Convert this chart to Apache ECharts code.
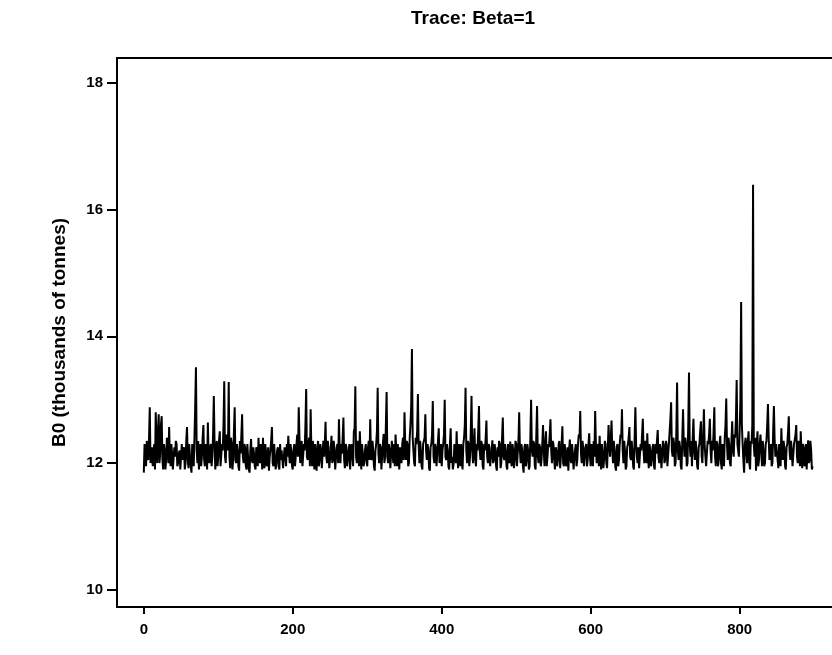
<!DOCTYPE html>
<html>
<head>
<meta charset="utf-8">
<script src="https://cdn.jsdelivr.net/npm/echarts@6/dist/echarts.min.js"></script>
<style>html,body{margin:0;padding:0;background:#fff;}#c{width:832px;height:655px;}</style>
</head>
<body>
<div id="c"></div>
<script>
// B0 trace values (thousands of tonnes).
// evenIterValues: iterations 0,2,4,...,898 ; oddIterValues: iterations 1,3,5,...,899
const evenIterValues = [
11.85,12.2,12.35,12.05,12.88,12.1,11.95,12.3,12.8,12.0,12.77,12.15,12.74,11.9,12.2,12.05,12.3,12.57,11.95,12.15,11.88,12.1,12.3,12.0,12.2,
11.9,12.05,12.25,12.0,12.57,11.92,12.1,11.85,12.2,12.4,13.51,12.0,11.9,12.3,12.1,12.6,11.95,12.25,12.64,12.0,12.3,12.1,13.06,11.9,12.35,
12.1,12.5,11.95,12.2,13.29,12.0,12.4,13.28,11.92,12.3,12.05,12.88,12.0,12.2,11.88,12.15,12.77,12.0,12.25,11.9,12.1,11.85,12.38,12.0,12.15,
11.9,12.2,12.4,12.0,12.1,12.4,11.92,12.2,12.05,11.88,12.2,12.57,11.95,12.1,12.0,12.25,11.9,12.05,12.2,11.95,12.15,12.3,12.43,12.0,12.2,
11.9,12.3,12.1,12.45,12.88,12.0,12.35,11.92,12.2,13.17,12.05,12.4,12.85,11.95,12.15,12.3,11.88,12.35,12.05,12.2,11.9,12.1,12.65,12.0,12.25,
11.95,12.43,12.05,12.2,11.88,12.3,12.69,12.0,12.15,12.72,11.92,12.25,12.05,12.3,11.9,12.2,12.5,13.21,12.0,12.2,12.5,11.9,12.15,12.0,12.3,
11.95,12.35,12.69,12.05,12.2,11.88,12.3,13.19,12.0,12.25,11.92,12.46,12.1,13.12,12.0,12.2,11.9,12.15,12.3,12.45,11.95,12.1,12.25,12.0,12.4,
12.8,12.05,12.3,12.0,12.6,13.8,12.2,11.95,12.3,13.09,12.0,12.2,11.9,12.35,12.77,12.05,12.2,11.88,12.3,12.98,12.0,12.25,11.92,12.55,12.1,
11.95,12.3,13.0,12.05,12.2,11.9,12.55,12.1,12.0,12.25,12.5,11.92,12.15,12.3,11.9,12.4,13.19,12.0,12.3,12.1,13.06,12.0,12.55,11.95,12.2,
12.9,12.05,12.3,11.9,12.2,12.67,12.0,12.25,11.92,12.36,12.05,12.2,11.88,12.1,12.3,12.0,12.72,12.05,12.2,11.9,12.15,12.34,11.95,12.2,12.05,
12.3,11.92,12.8,12.0,12.2,11.85,12.3,12.05,12.2,11.95,13.0,12.1,12.3,11.9,12.9,12.0,12.25,12.05,12.6,11.95,12.5,12.1,12.25,12.69,12.0,
12.3,11.9,12.2,12.05,12.35,12.1,12.58,11.95,12.2,12.05,11.88,12.37,12.0,12.15,11.9,12.3,12.05,12.45,12.82,12.0,12.25,11.92,12.3,12.05,12.47,
11.95,12.2,12.35,12.82,12.0,12.25,12.43,11.9,12.15,12.05,12.3,11.92,12.6,12.1,12.67,12.0,12.2,11.88,12.3,12.05,12.45,12.85,12.0,12.2,11.95,
12.3,12.57,12.05,12.2,11.9,12.88,12.1,12.25,11.95,12.2,12.7,12.0,12.25,12.47,11.92,12.2,12.05,12.3,11.9,12.15,12.52,12.0,12.2,11.95,12.29,
12.05,12.3,11.92,12.5,12.96,12.1,12.3,12.0,13.27,12.05,12.25,11.9,12.85,12.1,12.3,12.0,13.43,12.1,11.95,12.7,12.05,12.2,11.9,12.3,12.66,
12.0,12.85,12.1,11.92,12.3,12.7,12.0,12.2,12.88,11.95,12.3,12.05,12.43,11.9,12.2,12.4,13.02,12.05,12.3,11.95,12.66,12.1,12.4,13.31,12.2,
12.5,14.54,12.3,11.85,12.4,12.0,12.5,11.9,12.3,16.39,12.1,11.88,12.5,12.05,12.45,11.95,12.2,12.0,12.35,12.93,12.05,12.3,12.0,12.9,12.1,
12.3,11.92,12.2,12.55,12.05,12.25,11.9,12.3,12.74,12.05,12.2,11.95,12.3,12.6,12.0,12.2,12.5,11.92,12.25,12.05,11.9,12.36,12.05,12.2,11.95
];
const oddIterValues = [
12.3,11.95,12.1,12.4,12.0,12.25,12.15,11.9,12.35,12.5,12.0,12.6,12.05,12.3,11.9,12.4,12.0,12.1,12.3,11.9,12.25,12.35,11.95,12.15,11.9,
12.3,12.2,11.9,12.35,12.05,12.3,11.95,12.3,11.95,12.9,12.2,12.35,12.1,11.95,12.4,12.05,12.3,11.9,12.1,12.25,11.95,12.45,12.3,12.2,11.95,
12.35,11.95,12.3,12.6,12.1,12.45,12.2,12.1,12.4,11.9,12.5,12.05,12.3,11.95,12.35,12.45,12.1,12.3,11.95,12.3,11.9,12.2,12.05,12.25,11.95,
12.25,11.95,12.1,12.3,11.9,12.0,12.3,11.95,12.25,12.1,12.35,12.0,12.3,11.9,12.2,11.95,12.3,12.2,11.92,12.25,11.95,12.1,12.15,12.3,11.95,
12.2,11.95,12.3,12.1,12.4,12.25,11.95,12.3,12.6,12.1,12.3,11.95,12.2,12.35,11.9,12.05,12.25,11.95,12.3,11.92,12.35,12.3,12.1,12.35,11.92,
12.2,12.0,12.35,11.9,12.25,12.0,12.2,12.3,12.4,12.05,12.3,11.95,12.2,11.9,12.3,11.95,12.55,12.1,12.35,11.95,12.2,12.3,11.95,12.2,12.05,
12.25,12.05,12.1,12.35,11.95,12.2,12.5,12.15,12.3,11.9,12.3,12.0,12.6,12.1,12.3,11.92,12.35,12.0,11.95,12.2,12.3,11.9,12.1,12.3,12.05,
12.3,12.35,11.95,12.4,12.9,12.4,12.0,12.4,12.5,12.3,12.35,11.95,12.3,12.4,12.2,12.3,11.92,12.25,12.45,12.1,12.3,11.95,12.35,12.0,12.3,
12.2,12.45,12.1,12.3,11.95,12.3,12.0,11.9,12.3,12.0,12.1,12.3,11.95,12.0,12.3,12.6,12.2,12.35,11.95,12.5,12.2,12.3,12.05,12.3,12.5,
12.2,12.35,11.95,12.3,12.4,12.1,12.3,11.95,12.2,12.0,12.3,11.95,12.25,12.35,11.92,12.4,12.1,12.3,11.95,12.3,12.0,12.05,12.3,11.92,12.35,
11.95,12.35,12.2,12.3,11.95,12.25,11.95,12.3,11.9,12.4,12.2,12.35,11.95,12.45,12.1,12.3,11.95,12.3,12.2,12.3,11.95,12.3,12.45,12.2,12.35,
12.05,12.25,11.95,12.3,11.92,12.3,12.0,12.3,11.95,12.25,12.2,12.05,12.3,11.9,12.2,11.95,12.3,12.4,12.15,12.35,11.95,12.25,11.95,12.3,12.1,
12.3,11.95,12.1,12.3,12.3,11.95,12.1,12.3,11.92,12.35,12.0,12.25,12.3,12.4,12.2,12.35,11.95,12.25,11.95,12.3,12.4,12.2,12.35,11.9,12.25,
12.4,12.1,12.35,11.95,12.4,12.3,12.0,11.92,12.3,12.45,12.2,12.35,12.0,12.1,12.3,11.95,12.25,11.95,12.3,12.35,12.1,12.3,11.92,12.35,12.0,
12.35,11.95,12.3,12.7,12.2,12.4,11.95,12.5,12.2,12.35,11.95,12.4,12.3,12.4,11.95,12.6,12.3,12.35,12.4,12.2,12.35,11.95,12.25,12.5,12.1,
12.4,12.3,11.95,12.35,12.45,12.2,12.35,12.5,12.1,12.35,11.95,12.3,12.0,12.3,11.95,12.6,12.3,12.4,12.0,12.35,12.2,12.45,12.7,12.3,12.1,
13.0,12.6,12.05,12.3,12.2,12.35,12.0,12.35,12.6,12.3,12.4,12.3,11.95,12.3,12.2,12.35,11.95,12.3,12.6,12.4,12.2,11.95,12.5,12.35,12.3,
12.05,12.3,11.95,12.2,12.35,11.95,12.25,12.5,12.2,12.35,11.95,12.3,12.45,12.1,12.35,11.95,12.2,12.3,11.95,12.3,12.2,12.0,12.35,11.9
];
const xTicks = [0, 200, 400, 600, 800];
const yTicks = [10, 12, 14, 16, 18];

// interleave the two read arrays into [iteration, value] pairs
const seriesData = [];
for (let i = 0; i < evenIterValues.length; i++) {
  seriesData.push([2 * i, evenIterValues[i]]);
  if (i < oddIterValues.length) seriesData.push([2 * i + 1, oddIterValues[i]]);
}

const chart = echarts.init(document.getElementById('c'), null, {renderer: 'canvas'});
const font = 'Liberation Sans, Arial, sans-serif';
const X_MIN = -36, X_MAX = 924;
chart.setOption({
  animation: false,
  backgroundColor: '#fff',
  title: {
    text: 'Trace: Beta=1',
    left: 468, top: 4, textAlign: 'center',
    textStyle: {fontFamily: font, fontSize: 19, fontWeight: 'bold', color: '#000'}
  },
  grid: {
    left: 117, top: 58, right: 0, bottom: 48, show: false
  },
  xAxis: [{
    type: 'value', min: X_MIN, max: X_MAX,
    axisLine: {show: true, onZero: false, lineStyle: {color: '#000', width: 2}},
    axisTick: {show: true, customValues: xTicks, length: 7, lineStyle: {color: '#000', width: 2}},
    axisLabel: {customValues: xTicks, margin: 15, color: '#000', fontFamily: font, fontSize: 15, fontWeight: 'bold'},
    splitLine: {show: false}
  }, {
    type: 'value', position: 'top', min: X_MIN, max: X_MAX,
    axisLine: {show: true, onZero: false, lineStyle: {color: '#000', width: 2}},
    axisTick: {show: false}, axisLabel: {show: false}, splitLine: {show: false}
  }],
  yAxis: {
    type: 'value', min: 9.73, max: 18.39,
    name: 'B0 (thousands of tonnes)', nameLocation: 'middle', nameGap: 48, nameRotate: 90,
    nameTextStyle: {fontFamily: font, fontSize: 19, fontWeight: 'bold', color: '#000'},
    axisLine: {show: true, onZero: false, lineStyle: {color: '#000', width: 2}},
    axisTick: {show: true, customValues: yTicks, length: 10, lineStyle: {color: '#000', width: 2}},
    axisLabel: {customValues: yTicks, margin: 14, color: '#000', fontFamily: font, fontSize: 15, fontWeight: 'bold'},
    splitLine: {show: false}
  },
  series: [{
    type: 'line', data: seriesData, showSymbol: false, symbol: 'none',
    lineStyle: {color: '#000', width: 2}, clip: true
  }]
});
</script>
</body>
</html>
